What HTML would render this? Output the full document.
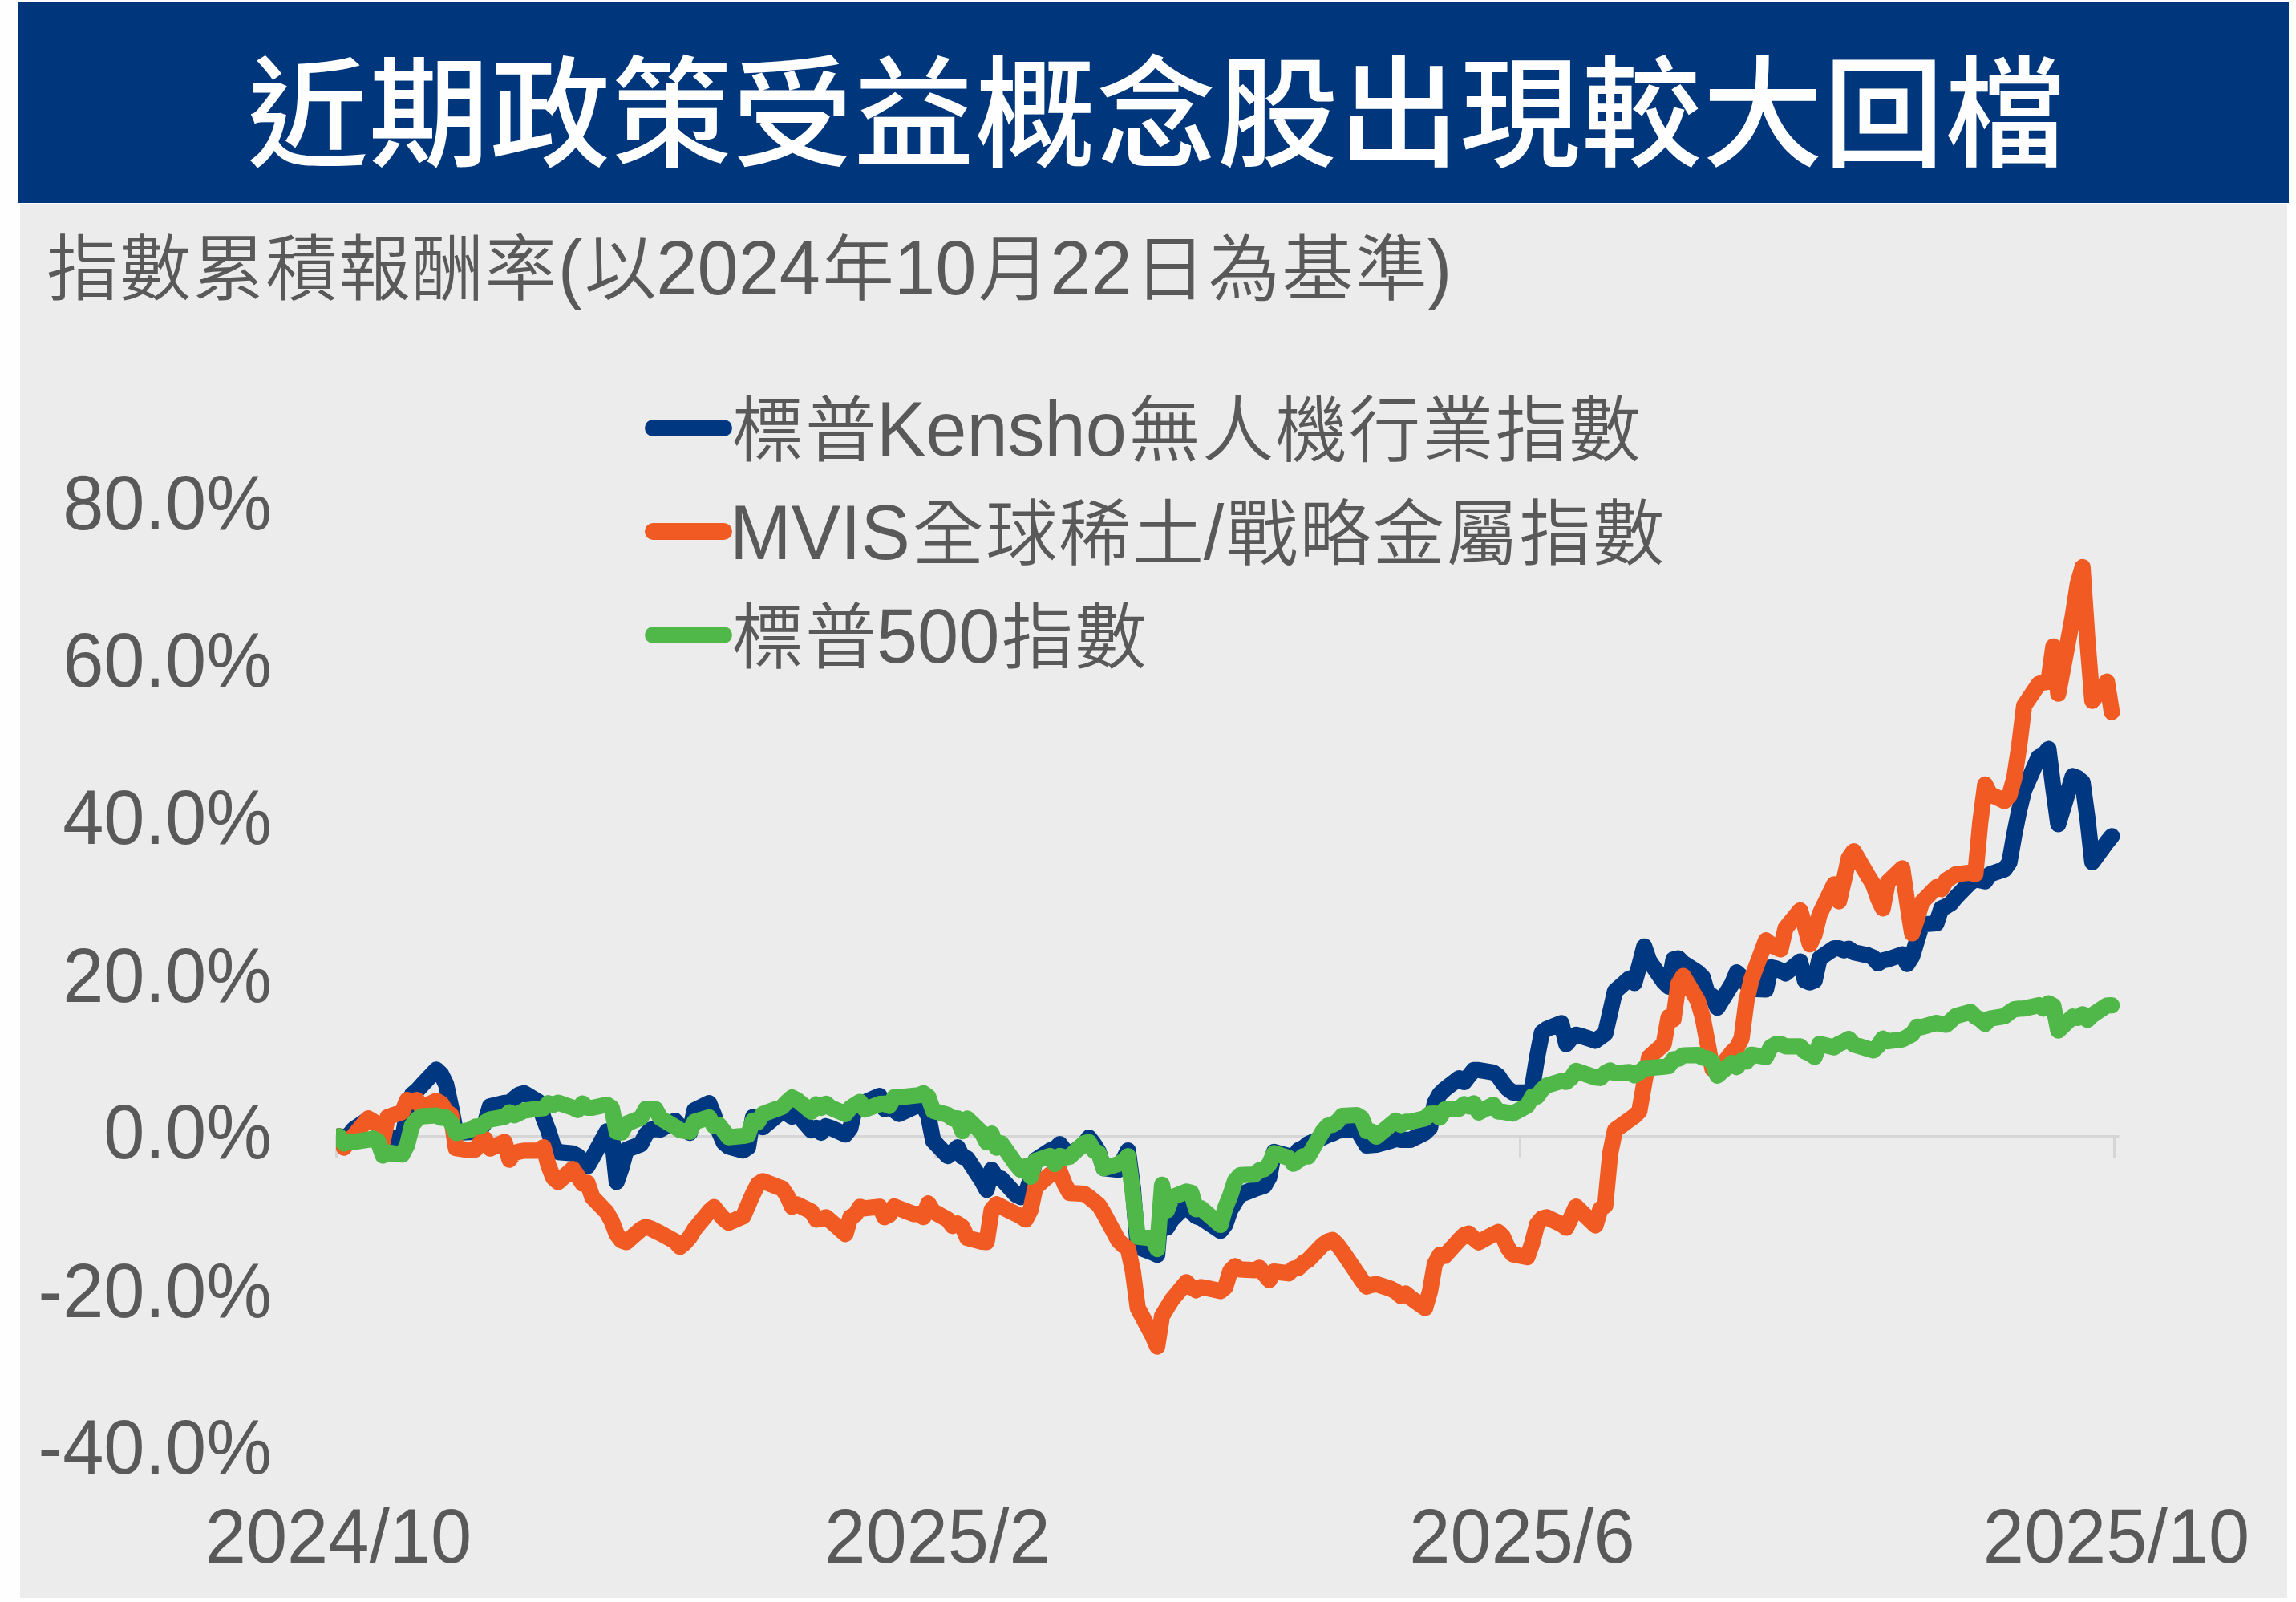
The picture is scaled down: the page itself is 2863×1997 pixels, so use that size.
<!DOCTYPE html>
<html lang="zh-Hant">
<head>
<meta charset="utf-8">
<title>近期政策受益概念股出現較大回檔</title>
<style>
html,body{margin:0;padding:0;background:#fefefe;}
body{width:2863px;height:1997px;position:relative;overflow:hidden;font-family:"Liberation Sans","Noto Sans CJK TC",sans-serif;}
#hdr{position:absolute;left:22px;top:3px;width:2832px;height:250px;background:#00377c;}
#ttl{position:absolute;left:286.5px;top:16px;height:250px;line-height:250px;color:#fff;font-weight:500;font-size:150px;letter-spacing:1.2px;white-space:nowrap;}
#panel{position:absolute;left:25px;top:254px;width:2827px;height:1738px;background:#ececec;}
.t{position:absolute;color:#595959;white-space:nowrap;font-size:92px;line-height:1;font-weight:400;}
.c{font-size:89.5px;letter-spacing:2.5px;font-weight:350;position:relative;left:2.5px;}
.c1{letter-spacing:1.6px;left:0;}
.c2{letter-spacing:1.95px;}
.l{display:inline-block;transform:scaleY(1.04);transform-origin:50% 84.7%;}
.yl{text-align:right;width:300px;left:39px;}
.xl{text-align:center;width:500px;}
svg{position:absolute;left:0;top:0;}
</style>
</head>
<body>
<div id="hdr"><div id="ttl">近期政策受益概念股出現較大回檔</div></div>
<div id="panel"></div>
<div class="t" id="sub" style="left:58px;top:288.5px;"><span class="c c1">指數累積報酬率</span><span class="l">(</span><span class="c">以</span><span class="l">2024</span><span class="c">年</span><span class="l">10</span><span class="c">月</span><span class="l">22</span><span class="c">日為基準</span><span class="l">)</span></div>

<div class="t yl" style="top:582px;"><span class="l">80.0%</span></div>
<div class="t yl" style="top:778px;"><span class="l">60.0%</span></div>
<div class="t yl" style="top:974px;"><span class="l">40.0%</span></div>
<div class="t yl" style="top:1171px;"><span class="l">20.0%</span></div>
<div class="t yl" style="top:1366px;"><span class="l">0.0%</span></div>
<div class="t yl" style="top:1564px;"><span class="l">-20.0%</span></div>
<div class="t yl" style="top:1759px;"><span class="l">-40.0%</span></div>

<div class="t xl" style="left:172px;top:1870px;"><span class="l">2024/10</span></div>
<div class="t xl" style="left:919px;top:1870px;"><span class="l">2025/2</span></div>
<div class="t xl" style="left:1648px;top:1870px;"><span class="l">2025/6</span></div>
<div class="t xl" style="left:2389px;top:1870px;"><span class="l">2025/10</span></div>

<svg width="2863" height="1997" viewBox="0 0 2863 1997">
<g stroke="#d6d6d6" stroke-width="3" fill="none">
<path d="M418 1416.5H2642.5"/>
<path d="M419.5 1416V1444M1166.500 1416V1444M1895.5 1416V1444M2636.5 1416V1444"/>
</g>
<defs><clipPath id="plot"><rect x="419" y="300" width="2300" height="1500"/></clipPath></defs>
<g id="lines" fill="none" stroke-width="20.2" stroke-linejoin="round" stroke-linecap="round" clip-path="url(#plot)">
<path id="blue" stroke="#003781" d="M422.7 1416.4L428.8 1417.4L434.8 1415.3L440.9 1407.9L459.1 1395.4L465.2 1398.6L471.3 1402.6L477.4 1412.0L483.4 1418.0L501.6 1419.6L507.7 1388.0L513.8 1364.6L519.9 1359.5L525.9 1352.9L544.2 1333.4L550.2 1339.3L556.3 1351.8L562.4 1380.0L568.5 1412.0L586.7 1411.2L592.7 1411.0L598.8 1408.0L604.9 1399.4L611.0 1379.0L629.2 1374.9L635.3 1374.5L641.3 1369.2L647.4 1364.4L653.5 1362.8L671.7 1373.6L677.8 1394.0L683.8 1409.4L689.9 1428.6L696.0 1436.1L714.2 1437.8L720.3 1440.9L726.4 1447.0L732.4 1454.0L738.5 1443.5L756.7 1410.3L762.8 1414.2L768.9 1473.3L774.9 1456.0L781.0 1433.2L799.2 1426.2L805.3 1414.2L811.4 1408.1L817.4 1407.1L823.5 1408.1L841.7 1397.1L847.8 1404.1L853.9 1408.1L860.0 1412.1L866.0 1384.1L884.2 1375.1L890.3 1390.1L896.4 1410.1L902.5 1424.2L908.5 1429.2L926.8 1434.2L932.8 1430.2L938.9 1392.5L945.0 1400.1L951.1 1405.1L969.3 1390.1L975.3 1384.1L981.4 1388.1L987.5 1392.1L993.6 1388.1L1011.8 1409.1L1017.9 1406.1L1023.9 1412.1L1030.0 1404.1L1036.1 1406.1L1054.3 1414.2L1060.4 1406.1L1066.4 1380.1L1072.5 1376.0L1078.6 1374.0L1096.8 1366.1L1102.9 1382.5L1108.9 1380.0L1115.0 1384.0L1121.1 1388.5L1139.3 1380.0L1145.4 1378.0L1151.5 1379.0L1157.5 1391.0L1163.6 1422.0L1181.8 1441.1L1187.9 1436.1L1194.0 1430.1L1200.0 1442.0L1206.1 1444.1L1224.3 1472.0L1230.4 1483.2L1236.5 1458.1L1242.6 1468.2L1248.6 1469.2L1266.8 1489.2L1272.9 1492.2L1279.0 1488.2L1285.1 1470.2L1291.1 1446.1L1309.4 1434.1L1315.4 1432.1L1321.5 1426.1L1327.6 1434.1L1333.7 1440.1L1351.9 1426.1L1357.9 1418.1L1364.0 1426.1L1370.1 1436.1L1376.2 1456.1L1394.4 1458.1L1400.5 1446.1L1406.5 1434.1L1412.6 1480.2L1418.7 1554.3L1436.9 1561.3L1443.0 1564.3L1449.0 1492.2L1455.1 1530.3L1461.2 1520.2L1479.4 1502.2L1485.5 1510.2L1491.5 1516.2L1497.6 1518.2L1521.9 1534.3L1528.0 1526.3L1534.1 1508.2L1540.1 1498.2L1546.2 1489.2L1564.4 1482.2L1570.5 1480.2L1576.6 1478.2L1582.6 1467.8L1588.7 1435.9L1606.9 1440.9L1613.0 1442.9L1619.1 1433.9L1625.2 1430.9L1631.2 1425.9L1649.4 1417.9L1655.5 1414.9L1661.6 1412.9L1667.7 1409.9L1673.7 1408.9L1692.0 1407.9L1698.0 1417.9L1704.1 1427.9L1710.2 1427.5L1716.2 1426.9L1734.5 1421.9L1740.5 1419.9L1746.6 1420.9L1752.7 1420.9L1758.8 1420.9L1777.0 1411.9L1783.1 1405.9L1789.1 1374.9L1795.2 1364.0L1801.3 1358.0L1819.5 1344.0L1825.6 1349.0L1831.6 1341.3L1837.7 1333.9L1843.8 1333.9L1862.0 1336.9L1868.1 1341.3L1874.1 1350.1L1880.2 1357.4L1886.3 1361.8L1904.5 1361.8L1910.6 1355.9L1916.7 1317.8L1922.7 1287.0L1928.8 1282.6L1947.0 1275.3L1953.1 1301.7L1959.2 1294.3L1965.2 1289.9L1971.3 1291.4L1989.5 1297.3L1995.6 1292.9L2001.7 1288.5L2007.8 1262.0L2013.8 1235.6L2032.0 1219.5L2038.1 1225.4L2044.2 1203.4L2050.3 1179.9L2056.3 1197.5L2074.6 1223.9L2080.6 1229.8L2086.7 1196.0L2092.8 1194.6L2098.8 1200.4L2117.1 1212.2L2123.1 1218.0L2129.2 1238.6L2135.3 1241.5L2141.4 1256.2L2159.6 1226.8L2165.7 1212.2L2171.7 1218.0L2177.8 1226.8L2183.9 1232.7L2202.1 1233.4L2208.2 1205.9L2214.2 1207.2L2220.3 1209.7L2226.4 1213.4L2244.6 1198.5L2250.7 1222.2L2256.7 1224.7L2262.8 1222.2L2268.9 1194.7L2287.1 1182.2L2293.2 1182.2L2299.3 1184.7L2305.3 1182.7L2311.4 1187.2L2329.6 1191.0L2335.7 1193.5L2341.8 1200.9L2347.8 1197.2L2353.9 1196.0L2372.1 1189.7L2378.2 1201.7L2384.3 1192.2L2390.4 1172.2L2396.4 1152.2L2414.6 1151.0L2420.7 1132.3L2426.8 1129.8L2432.9 1126.0L2438.9 1118.5L2457.2 1099.8L2463.2 1096.1L2469.3 1097.3L2475.4 1098.6L2481.4 1089.8L2499.7 1083.6L2505.7 1074.8L2511.8 1039.9L2517.9 1009.9L2524.0 984.9L2542.2 943.7L2548.2 941.2L2554.3 933.7L2560.4 982.4L2566.5 1027.4L2584.7 967.4L2590.8 969.9L2596.8 974.9L2602.9 1019.9L2609.0 1074.8L2627.2 1049.9L2633.3 1042.4"/>
<path id="orange" stroke="#f15a22" d="M422.7 1416.4L428.8 1430.6L434.8 1423.3L440.9 1416.0L459.1 1394.2L465.2 1397.8L471.3 1402.0L477.4 1422.9L483.4 1392.5L501.6 1386.2L507.7 1371.2L513.8 1373.1L519.9 1371.2L525.9 1381.0L544.2 1372.2L550.2 1375.5L556.3 1385.5L562.4 1390.0L568.5 1431.3L586.7 1433.9L592.7 1433.0L598.8 1424.3L604.9 1419.9L611.0 1431.7L629.2 1423.4L635.3 1445.7L641.3 1437.4L647.4 1435.5L653.5 1434.4L671.7 1434.4L677.8 1430.0L683.8 1452.7L689.9 1468.0L696.0 1473.6L714.2 1457.1L720.3 1466.2L726.4 1475.3L732.4 1474.3L738.5 1492.3L756.7 1511.3L762.8 1522.3L768.9 1538.4L774.9 1546.4L781.0 1548.4L799.2 1532.4L805.3 1529.4L811.4 1531.4L817.4 1534.4L823.5 1537.4L841.7 1547.4L847.8 1554.4L853.9 1549.4L860.0 1542.4L866.0 1532.4L884.2 1510.3L890.3 1504.7L896.4 1512.3L902.5 1519.3L908.5 1524.3L926.8 1516.3L932.8 1502.3L938.9 1488.3L945.0 1476.3L951.1 1472.3L969.3 1479.3L975.3 1481.3L981.4 1490.3L987.5 1504.3L993.6 1501.3L1011.8 1510.3L1017.9 1520.3L1023.9 1519.3L1030.0 1517.3L1036.1 1522.3L1054.3 1538.4L1060.4 1517.3L1066.4 1514.3L1072.5 1504.3L1078.6 1506.3L1096.8 1504.3L1102.9 1517.3L1108.9 1514.3L1115.0 1503.9L1121.1 1506.3L1139.3 1513.3L1145.4 1513.2L1151.5 1517.2L1157.5 1500.2L1163.6 1510.2L1181.8 1520.2L1187.9 1528.3L1194.0 1525.3L1200.0 1529.3L1206.1 1543.3L1224.3 1547.9L1230.4 1548.3L1236.5 1508.2L1242.6 1501.2L1248.6 1504.2L1266.8 1513.2L1272.9 1516.2L1279.0 1520.2L1285.1 1508.2L1291.1 1480.2L1309.4 1464.1L1315.4 1460.1L1321.5 1460.1L1327.6 1476.2L1333.7 1487.2L1351.9 1488.2L1357.9 1492.2L1364.0 1497.2L1370.1 1502.2L1376.2 1512.2L1394.4 1546.3L1400.5 1552.3L1406.5 1556.3L1412.6 1584.4L1418.7 1630.4L1436.9 1664.5L1443.0 1678.5L1449.0 1640.5L1455.1 1630.4L1461.2 1620.4L1479.4 1598.4L1485.5 1604.4L1491.5 1608.4L1497.6 1604.4L1503.7 1605.4L1521.9 1609.4L1528.0 1604.4L1534.1 1584.4L1540.1 1578.3L1546.2 1582.4L1564.4 1583.4L1570.5 1580.3L1576.6 1588.4L1582.6 1595.7L1588.7 1585.1L1606.9 1587.3L1613.0 1581.3L1619.1 1580.7L1625.2 1574.1L1631.2 1570.7L1649.4 1551.7L1655.5 1547.7L1661.6 1545.7L1667.7 1551.7L1673.7 1559.7L1692.0 1586.7L1698.0 1595.7L1704.1 1603.7L1710.2 1601.7L1716.2 1600.7L1734.5 1606.7L1740.5 1609.7L1746.6 1615.6L1752.7 1612.6L1758.8 1617.6L1777.0 1630.6L1783.1 1609.7L1789.1 1575.7L1795.2 1564.7L1801.3 1565.7L1819.5 1545.7L1825.6 1539.7L1831.6 1537.7L1837.7 1543.7L1843.8 1548.7L1862.0 1538.7L1868.1 1535.7L1874.1 1541.7L1880.2 1555.7L1886.3 1563.7L1904.5 1567.2L1910.6 1549.6L1916.7 1526.1L1922.7 1518.8L1928.8 1517.3L1947.0 1526.1L1953.1 1530.5L1959.2 1517.3L1965.2 1504.1L1971.3 1510.0L1989.5 1527.6L1995.6 1507.1L2001.7 1502.7L2007.8 1438.1L2013.8 1408.8L2032.0 1395.6L2038.1 1391.2L2044.2 1385.3L2050.3 1350.1L2056.3 1317.8L2074.6 1301.7L2080.6 1267.9L2086.7 1270.8L2092.8 1226.8L2098.8 1216.6L2117.1 1247.4L2123.1 1267.9L2129.2 1300.2L2135.3 1332.5L2141.4 1335.4L2159.6 1311.9L2165.7 1306.1L2171.7 1294.3L2177.8 1247.4L2183.9 1220.9L2202.1 1172.2L2208.2 1177.2L2214.2 1181.0L2220.3 1183.5L2226.4 1157.2L2244.6 1134.8L2250.7 1154.7L2256.7 1177.2L2262.8 1164.7L2268.9 1139.8L2287.1 1102.3L2293.2 1123.5L2299.3 1097.3L2305.3 1069.8L2311.4 1061.1L2329.6 1092.3L2335.7 1102.3L2341.8 1119.8L2347.8 1132.3L2353.9 1099.8L2372.1 1082.3L2378.2 1124.8L2384.3 1163.5L2390.4 1144.8L2396.4 1124.8L2414.6 1106.0L2420.7 1108.5L2426.8 1097.3L2432.9 1093.6L2438.9 1089.8L2457.2 1087.8L2463.2 1089.8L2469.3 1024.9L2475.4 977.9L2481.4 989.9L2499.7 998.5L2505.7 991.5L2511.8 969.5L2517.9 929.6L2524.0 879.7L2542.2 852.7L2548.2 850.7L2554.3 849.7L2560.4 805.8L2566.5 864.7L2584.7 767.9L2590.8 727.9L2596.8 707.0L2602.9 797.8L2609.0 873.7L2627.2 849.7L2633.3 887.7"/>
<path id="green" stroke="#50b848" d="M422.7 1416.4L428.8 1425.4L434.8 1423.3L440.9 1423.5L459.1 1420.8L465.2 1419.2L471.3 1422.4L477.4 1440.5L483.4 1436.6L501.6 1439.2L507.7 1427.4L513.8 1402.8L519.9 1395.4L525.9 1391.6L544.2 1390.5L550.2 1393.4L556.3 1393.1L562.4 1399.1L568.5 1412.3L586.7 1408.3L592.7 1404.4L598.8 1404.3L604.9 1399.0L611.0 1395.5L629.2 1392.3L635.3 1386.5L641.3 1390.3L653.5 1384.6L671.7 1382.0L677.8 1381.5L683.8 1375.3L689.9 1377.2L696.0 1374.6L714.2 1380.8L720.3 1383.8L726.4 1375.5L732.4 1381.0L738.5 1381.0L756.7 1377.0L762.8 1380.9L768.9 1410.8L774.9 1411.7L781.0 1400.9L799.2 1393.5L805.3 1382.4L817.4 1382.7L823.5 1393.9L841.7 1404.6L847.8 1408.8L860.0 1410.9L866.0 1398.5L884.2 1392.8L890.3 1403.9L896.4 1402.3L908.5 1417.6L926.8 1416.0L932.8 1414.8L938.9 1396.8L945.0 1398.8L951.1 1388.8L975.3 1379.8L981.4 1373.5L987.5 1368.1L993.6 1371.0L1011.8 1385.8L1017.9 1376.5L1023.9 1381.2L1030.0 1375.8L1036.1 1380.9L1054.3 1388.6L1060.4 1381.2L1066.4 1377.2L1072.5 1373.5L1078.6 1383.1L1096.8 1376.2L1102.9 1375.8L1108.9 1378.6L1115.0 1367.9L1121.1 1367.9L1145.4 1365.3L1151.5 1362.8L1157.5 1367.2L1163.6 1384.8L1181.8 1389.7L1187.9 1394.4L1194.0 1394.2L1200.0 1410.1L1206.1 1394.4L1224.3 1412.0L1230.4 1424.0L1236.5 1413.1L1242.6 1430.6L1248.6 1425.2L1266.8 1451.3L1272.9 1458.5L1279.0 1453.9L1285.1 1466.9L1291.1 1447.1L1309.4 1440.9L1315.4 1451.1L1321.5 1440.8L1327.6 1442.9L1333.7 1442.0L1351.9 1425.1L1357.9 1423.5L1364.0 1434.3L1370.1 1437.5L1376.2 1456.4L1394.4 1451.1L1400.5 1447.5L1406.5 1441.0L1412.6 1487.3L1418.7 1541.7L1436.9 1543.6L1443.0 1557.0L1449.0 1476.9L1455.1 1508.8L1461.2 1492.7L1479.4 1485.4L1485.5 1486.9L1491.5 1507.3L1497.6 1506.1L1521.9 1527.0L1528.0 1505.1L1534.1 1490.2L1540.1 1471.7L1546.2 1464.9L1564.4 1464.2L1570.5 1458.7L1576.6 1457.3L1582.6 1451.3L1588.7 1437.4L1606.9 1443.4L1613.0 1450.7L1619.1 1446.5L1625.2 1441.0L1631.2 1441.6L1649.4 1410.4L1655.5 1403.2L1661.6 1402.1L1667.7 1398.0L1673.7 1391.0L1692.0 1390.0L1698.0 1393.8L1704.1 1410.0L1710.2 1410.4L1716.2 1417.0L1740.5 1396.8L1746.6 1402.3L1752.7 1398.3L1758.8 1398.3L1777.0 1394.1L1783.1 1388.3L1789.1 1388.2L1795.2 1393.5L1801.3 1383.1L1819.5 1382.1L1825.6 1376.4L1831.6 1379.2L1837.7 1375.3L1843.8 1386.8L1862.0 1377.2L1868.1 1385.7L1874.1 1386.0L1886.3 1388.1L1904.5 1378.3L1910.6 1366.9L1916.7 1366.9L1922.7 1358.6L1928.8 1353.1L1947.0 1347.6L1953.1 1348.7L1959.2 1343.7L1965.2 1334.9L1989.5 1343.1L1995.6 1343.8L2001.7 1337.4L2007.8 1334.4L2013.8 1337.9L2032.0 1336.3L2038.1 1340.4L2044.2 1337.0L2050.3 1331.3L2056.3 1331.4L2074.6 1329.7L2080.6 1329.0L2086.7 1320.6L2092.8 1319.8L2098.8 1315.5L2117.1 1315.2L2123.1 1318.4L2129.2 1319.7L2135.3 1323.6L2141.4 1340.8L2159.6 1325.1L2165.7 1330.3L2171.7 1322.4L2177.8 1323.3L2183.9 1314.8L2202.1 1317.4L2208.2 1305.1L2214.2 1301.6L2220.3 1301.2L2226.4 1304.3L2244.6 1304.3L2250.7 1310.7L2256.7 1313.3L2262.8 1317.6L2268.9 1301.2L2287.1 1305.7L2293.2 1301.2L2299.3 1298.5L2305.3 1295.0L2311.4 1302.0L2335.7 1309.4L2341.8 1303.9L2347.8 1294.7L2353.9 1298.1L2372.1 1295.7L2378.2 1292.7L2384.3 1289.4L2390.4 1279.9L2396.4 1280.4L2414.6 1275.0L2420.7 1276.4L2426.8 1277.5L2432.9 1272.1L2438.9 1266.5L2457.2 1261.4L2463.2 1267.6L2469.3 1270.8L2475.4 1276.4L2481.4 1269.8L2499.7 1266.7L2505.7 1262.0L2511.8 1258.1L2517.9 1257.4L2524.0 1257.2L2542.2 1253.0L2548.2 1257.3L2554.3 1250.6L2560.4 1253.7L2566.5 1284.7L2584.7 1267.2L2590.8 1268.9L2596.8 1264.3L2602.9 1271.4L2609.0 1265.5L2627.2 1253.3L2633.3 1253.2"/>
</g>
<g stroke-width="21" stroke-linecap="round">
<path d="M814.500 533.500H902.500" stroke="#003781"/>
<path d="M814.500 662.500H902.500" stroke="#f15a22"/>
<path d="M814.500 791.500H902.500" stroke="#50b848"/>
</g>
</svg>
<div class="t" style="left:910px;top:490px;"><span class="c c2">標普</span><span class="l">Kensho</span><span class="c c2">無人機行業指數</span></div>
<div class="t" style="left:910px;top:619px;"><span class="l">MVIS</span><span class="c c2">全球稀土</span><span class="l">/</span><span class="c c2">戰略金屬指數</span></div>
<div class="t" style="left:910px;top:748px;"><span class="c c2">標普</span><span class="l">500</span><span class="c c2">指數</span></div>
</body>
</html>
